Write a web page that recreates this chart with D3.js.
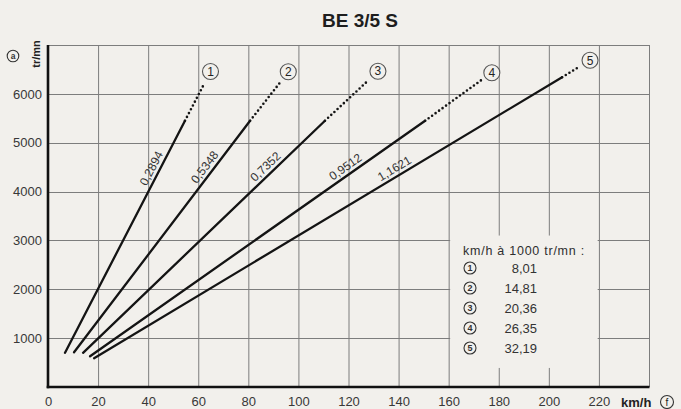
<!DOCTYPE html>
<html>
<head>
<meta charset="utf-8">
<script src="https://cdn.jsdelivr.net/npm/d3@7.9.0/dist/d3.min.js"></script>
<style>
  body { margin: 0; background: #f2f0ec; }
  svg { display: block; font-family: "Liberation Sans", Arial, sans-serif; }
</style>
</head>
<body>
<svg id="chart" width="681" height="409"></svg>
<script>
const gears = ['1', '2', '3', '4', '5'];
const ratios = ['0,2894', '0,5348', '0,7352', '0,9512', '1,1621'];
const kmhPer1000 = ['8,01', '14,81', '20,36', '26,35', '32,19'];

// [km/h, tr/mn]
const startPts   = [[6.8, 700], [10.4, 710], [14, 700], [16.8, 630], [18.4, 590]];
const solidEnds  = [[54.7, 5450], [80.7, 5450], [110.6, 5450], [150.6, 5450], [205.3, 6340]];
const dottedEnds = [[62.5, 6220], [92.8, 6240], [128, 6280], [173, 6280], [212, 6550]];
const labelRpm   = [4400, 4400, 4390, 4370, 4330];

const xTicks = [0, 20, 40, 60, 80, 100, 120, 140, 160, 180, 200, 220];
const yTicks = [1000, 2000, 3000, 4000, 5000, 6000];

const bg = '#f2f0ec';
const svg = d3.select('#chart');

const x = d3.scaleLinear().domain([0, 240]).range([48, 649]);
const y = d3.scaleLinear().domain([0, 7000]).range([387, 45]);

// title
svg.append('text')
  .attr('x', 360).attr('y', 27)
  .attr('text-anchor', 'middle')
  .style('font-size', '19px').style('font-weight', 'bold').attr('fill', '#1e1e1e')
  .text('BE 3/5 S');

// grid
const grid = svg.append('g').attr('stroke', '#7d7d7d').attr('stroke-width', 1);
grid.selectAll('line.v')
  .data(d3.range(20, 241, 20))
  .join('line')
  .attr('class', 'v')
  .attr('x1', d => x(d) + 0.5).attr('x2', d => x(d) + 0.5)
  .attr('y1', y(7000)).attr('y2', y(0));
grid.selectAll('line.h')
  .data(d3.range(1000, 7001, 1000))
  .join('line')
  .attr('class', 'h')
  .attr('x1', x(0)).attr('x2', x(240))
  .attr('y1', d => Math.round(y(d)) + 0.5).attr('y2', d => Math.round(y(d)) + 0.5);

// legend box clears the grid
const box = { x0: 160, x1: 219.5, y0: 390, y1: 3100 };
svg.append('rect')
  .attr('x', x(box.x0) + 1.5).attr('y', y(box.y1))
  .attr('width', x(box.x1) - x(box.x0) - 1.5)
  .attr('height', y(box.y0) - y(box.y1))
  .attr('fill', bg);

// axes (thick)
svg.append('line')
  .attr('x1', x(0)).attr('x2', x(0))
  .attr('y1', y(7000)).attr('y2', y(0) + 1.3)
  .attr('stroke', '#111').attr('stroke-width', 2.6);
svg.append('line')
  .attr('x1', x(0) - 1.3).attr('x2', x(240) + 0.5)
  .attr('y1', y(0)).attr('y2', y(0))
  .attr('stroke', '#111').attr('stroke-width', 2.6);

const xAxis = svg.append('g')
  .attr('transform', `translate(0,${y(0)})`)
  .call(d3.axisBottom(x).tickValues(xTicks).tickSize(0).tickPadding(10));
const yAxis = svg.append('g')
  .attr('transform', `translate(${x(0)},0)`)
  .call(d3.axisLeft(y).tickValues(yTicks).tickFormat(d3.format('d')).tickSize(0).tickPadding(6));
[xAxis, yAxis].forEach(g => {
  g.select('.domain').remove();
  g.selectAll('text')
    .style('font-size', '13px')
    .style('font-family', '"Liberation Sans", Arial, sans-serif')
    .attr('fill', '#383838');
});

// gear lines
const lines = svg.append('g');
gears.forEach((g, i) => {
  const p0 = [x(startPts[i][0]), y(startPts[i][1])];
  const p1 = [x(solidEnds[i][0]), y(solidEnds[i][1])];
  const p2 = [x(dottedEnds[i][0]), y(dottedEnds[i][1])];

  lines.append('line')
    .attr('x1', p0[0]).attr('y1', p0[1]).attr('x2', p1[0]).attr('y2', p1[1])
    .attr('stroke', '#141414').attr('stroke-width', 2.3).attr('stroke-linecap', 'round');
  lines.append('line')
    .attr('x1', p1[0]).attr('y1', p1[1]).attr('x2', p2[0]).attr('y2', p2[1])
    .attr('stroke', '#141414').attr('stroke-width', 2.6)
    .attr('stroke-linecap', 'round').attr('stroke-dasharray', '0 4.3');

  // ratio label along the line
  const dx = p1[0] - p0[0], dy = p1[1] - p0[1];
  const t = (y(labelRpm[i]) - p0[1]) / dy;
  const lp = [p0[0] + t * dx, p0[1] + t * dy];
  const ang = Math.atan2(dy, dx) * 180 / Math.PI;
  lines.append('text')
    .attr('transform', `translate(${lp[0]},${lp[1]}) rotate(${ang})`)
    .attr('dy', -4)
    .attr('text-anchor', 'middle')
    .style('font-size', '12px').attr('fill', '#333')
    .text(ratios[i]);

  // circled gear number beyond the dotted end
  const len = Math.hypot(p2[0] - p0[0], p2[1] - p0[1]);
  const c = [p2[0] + 13 * (p2[0] - p0[0]) / len, p2[1] + 13 * (p2[1] - p0[1]) / len];
  lines.append('circle')
    .attr('cx', c[0]).attr('cy', c[1]).attr('r', 8)
    .attr('fill', bg).attr('stroke', '#555').attr('stroke-width', 1.1);
  lines.append('text')
    .attr('x', c[0]).attr('y', c[1] + 4.3)
    .attr('text-anchor', 'middle')
    .style('font-size', '12px').attr('fill', '#222')
    .text(g);
});

// legend content
const lg = svg.append('g');
lg.append('text')
  .attr('x', 463).attr('y', 255)
  .style('font-size', '12.5px').style('letter-spacing', '0.75px').attr('fill', '#2e2e2e')
  .text('km/h à 1000 tr/mn :');
gears.forEach((g, i) => {
  const cy = 268 + i * 20;
  lg.append('circle')
    .attr('cx', 470).attr('cy', cy).attr('r', 6)
    .attr('fill', 'none').attr('stroke', '#333').attr('stroke-width', 1.1);
  lg.append('text')
    .attr('x', 470).attr('y', cy + 3.3)
    .attr('text-anchor', 'middle')
    .style('font-size', '9px').style('font-weight', 'bold').attr('fill', '#333')
    .text(g);
  lg.append('text')
    .attr('x', 537).attr('y', cy + 4.5)
    .attr('text-anchor', 'end')
    .style('font-size', '13px').attr('fill', '#333')
    .text(kmhPer1000[i]);
});

// axis titles
svg.append('text')
  .attr('x', 621).attr('y', 406.5)
  .style('font-size', '13px').style('font-weight', 'bold').attr('fill', '#222')
  .text('km/h');
svg.append('circle')
  .attr('cx', 667).attr('cy', 402).attr('r', 6.5)
  .attr('fill', 'none').attr('stroke', '#333').attr('stroke-width', 1.1);
svg.append('text')
  .attr('x', 667).attr('y', 405.5)
  .attr('text-anchor', 'middle')
  .style('font-size', '10px').attr('fill', '#222')
  .text('f');

svg.append('circle')
  .attr('cx', 13).attr('cy', 56).attr('r', 5.8)
  .attr('fill', 'none').attr('stroke', '#333').attr('stroke-width', 1.1);
svg.append('text')
  .attr('x', 13).attr('y', 59)
  .attr('text-anchor', 'middle')
  .style('font-size', '8.5px').style('font-weight', 'bold').attr('fill', '#333')
  .text('a');
svg.append('text')
  .attr('transform', 'translate(39.5,54) rotate(-90)')
  .attr('text-anchor', 'middle')
  .style('font-size', '11px').style('font-weight', 'bold').attr('fill', '#222')
  .text('tr/mn');
</script>
</body>
</html>
